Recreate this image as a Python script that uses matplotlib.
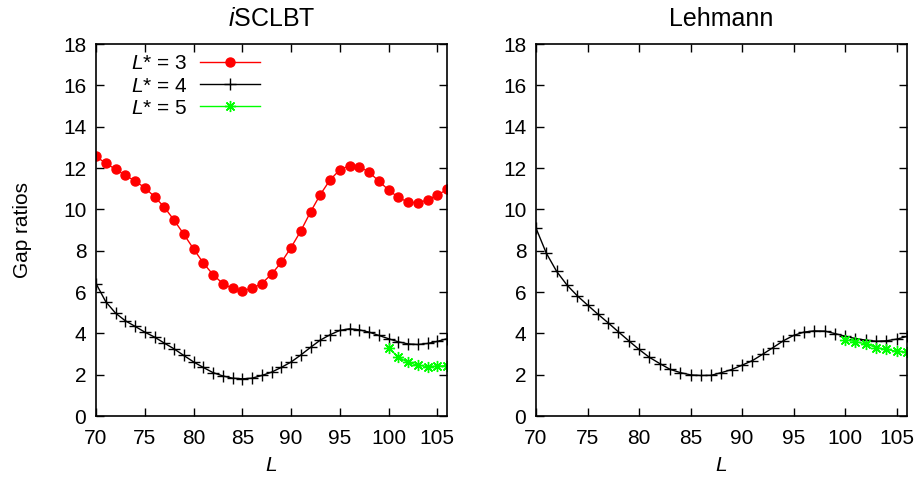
import matplotlib.pyplot as plt

plt.rcParams['font.family'] = ['Liberation Sans', 'DejaVu Sans']
plt.rcParams['mathtext.fontset'] = 'custom'
plt.rcParams['mathtext.rm'] = 'Liberation Sans'
plt.rcParams['mathtext.it'] = 'Liberation Sans:italic'
plt.rcParams['font.size'] = 15

# Data
L = list(range(70, 107))
L_green = list(range(100, 107))

iscl_3 = [12.56, 12.23, 11.94, 11.65, 11.37, 11.05, 10.61, 10.11, 9.48, 8.80,
          8.09, 7.41, 6.84, 6.41, 6.17, 6.07, 6.17, 6.41, 6.86, 7.43,
          8.15, 8.95, 9.87, 10.71, 11.42, 11.91, 12.12, 12.07, 11.80, 11.37,
          10.94, 10.58, 10.35, 10.32, 10.45, 10.69, 10.96]
iscl_4 = [6.41, 5.53, 4.98, 4.61, 4.34, 4.06, 3.82, 3.53, 3.25, 2.93,
          2.62, 2.35, 2.10, 1.94, 1.83, 1.80, 1.83, 1.96, 2.12, 2.35,
          2.61, 2.95, 3.32, 3.67, 3.93, 4.14, 4.22, 4.17, 4.06, 3.90,
          3.74, 3.59, 3.49, 3.46, 3.51, 3.61, 3.74]
iscl_5 = [3.30, 2.85, 2.59, 2.46, 2.39, 2.41, 2.44]

lehm_4 = [9.09, 7.88, 7.00, 6.34, 5.82, 5.37, 4.93, 4.51, 4.07, 3.64,
          3.22, 2.84, 2.54, 2.26, 2.10, 1.99, 1.96, 1.97, 2.10, 2.25,
          2.46, 2.68, 2.99, 3.31, 3.64, 3.90, 4.06, 4.12, 4.11, 3.99,
          3.86, 3.75, 3.67, 3.62, 3.64, 3.72, 3.85]
lehm_5 = [3.69, 3.60, 3.49, 3.31, 3.22, 3.13, 3.09]

fig = plt.figure(figsize=(9.18, 4.78), dpi=100)
W, H = 918, 478
ax1 = fig.add_axes([96 / W, 1 - 416 / H, 351 / W, 372 / H])
ax2 = fig.add_axes([536 / W, 1 - 416 / H, 371 / W, 372 / H])

green = '#00ff00'
ast = (8, 2, 0)

ax1.plot(L, iscl_3, '-', color='red', lw=1, marker='o', ms=6.5, label='$L$* = 3')
ax1.plot(L, iscl_4, '-', color='black', lw=1, marker='+', ms=8, mew=1, label='$L$* = 4')
ax1.plot(L_green, iscl_5, '-', color=green, lw=1, marker=ast, ms=8, mew=1, label='$L$* = 5')

ax2.plot(L, lehm_4, '-', color='black', lw=1, marker='+', ms=8, mew=1)
ax2.plot(L_green, lehm_5, '-', color=green, lw=1, marker=ast, ms=8, mew=1)

for ax, title in [(ax1, '$i$SCLBT'), (ax2, 'Lehmann')]:
    ax.set_xlim(70, 106)
    ax.set_ylim(0, 18)
    ax.set_xticks(range(70, 106, 5))
    ax.set_yticks(range(0, 19, 2))
    ax.tick_params(direction='in', top=True, right=True, length=6, width=1, pad=7)
    ax.tick_params(axis='x', pad=9)
    for s in ax.spines.values():
        s.set_linewidth(1.2)
    ax.set_title(title, pad=13)
    ax.set_xlabel('$L$', labelpad=6)

ax1.set_ylabel('Gap ratios', labelpad=22)
ax1.legend(loc='upper left', frameon=False, markerfirst=False, handlelength=2.9,
           borderaxespad=0.1, labelspacing=0.15, handletextpad=0.6,
           bbox_to_anchor=(0.07, 1.0))

fig.savefig('out.png', dpi=100)
